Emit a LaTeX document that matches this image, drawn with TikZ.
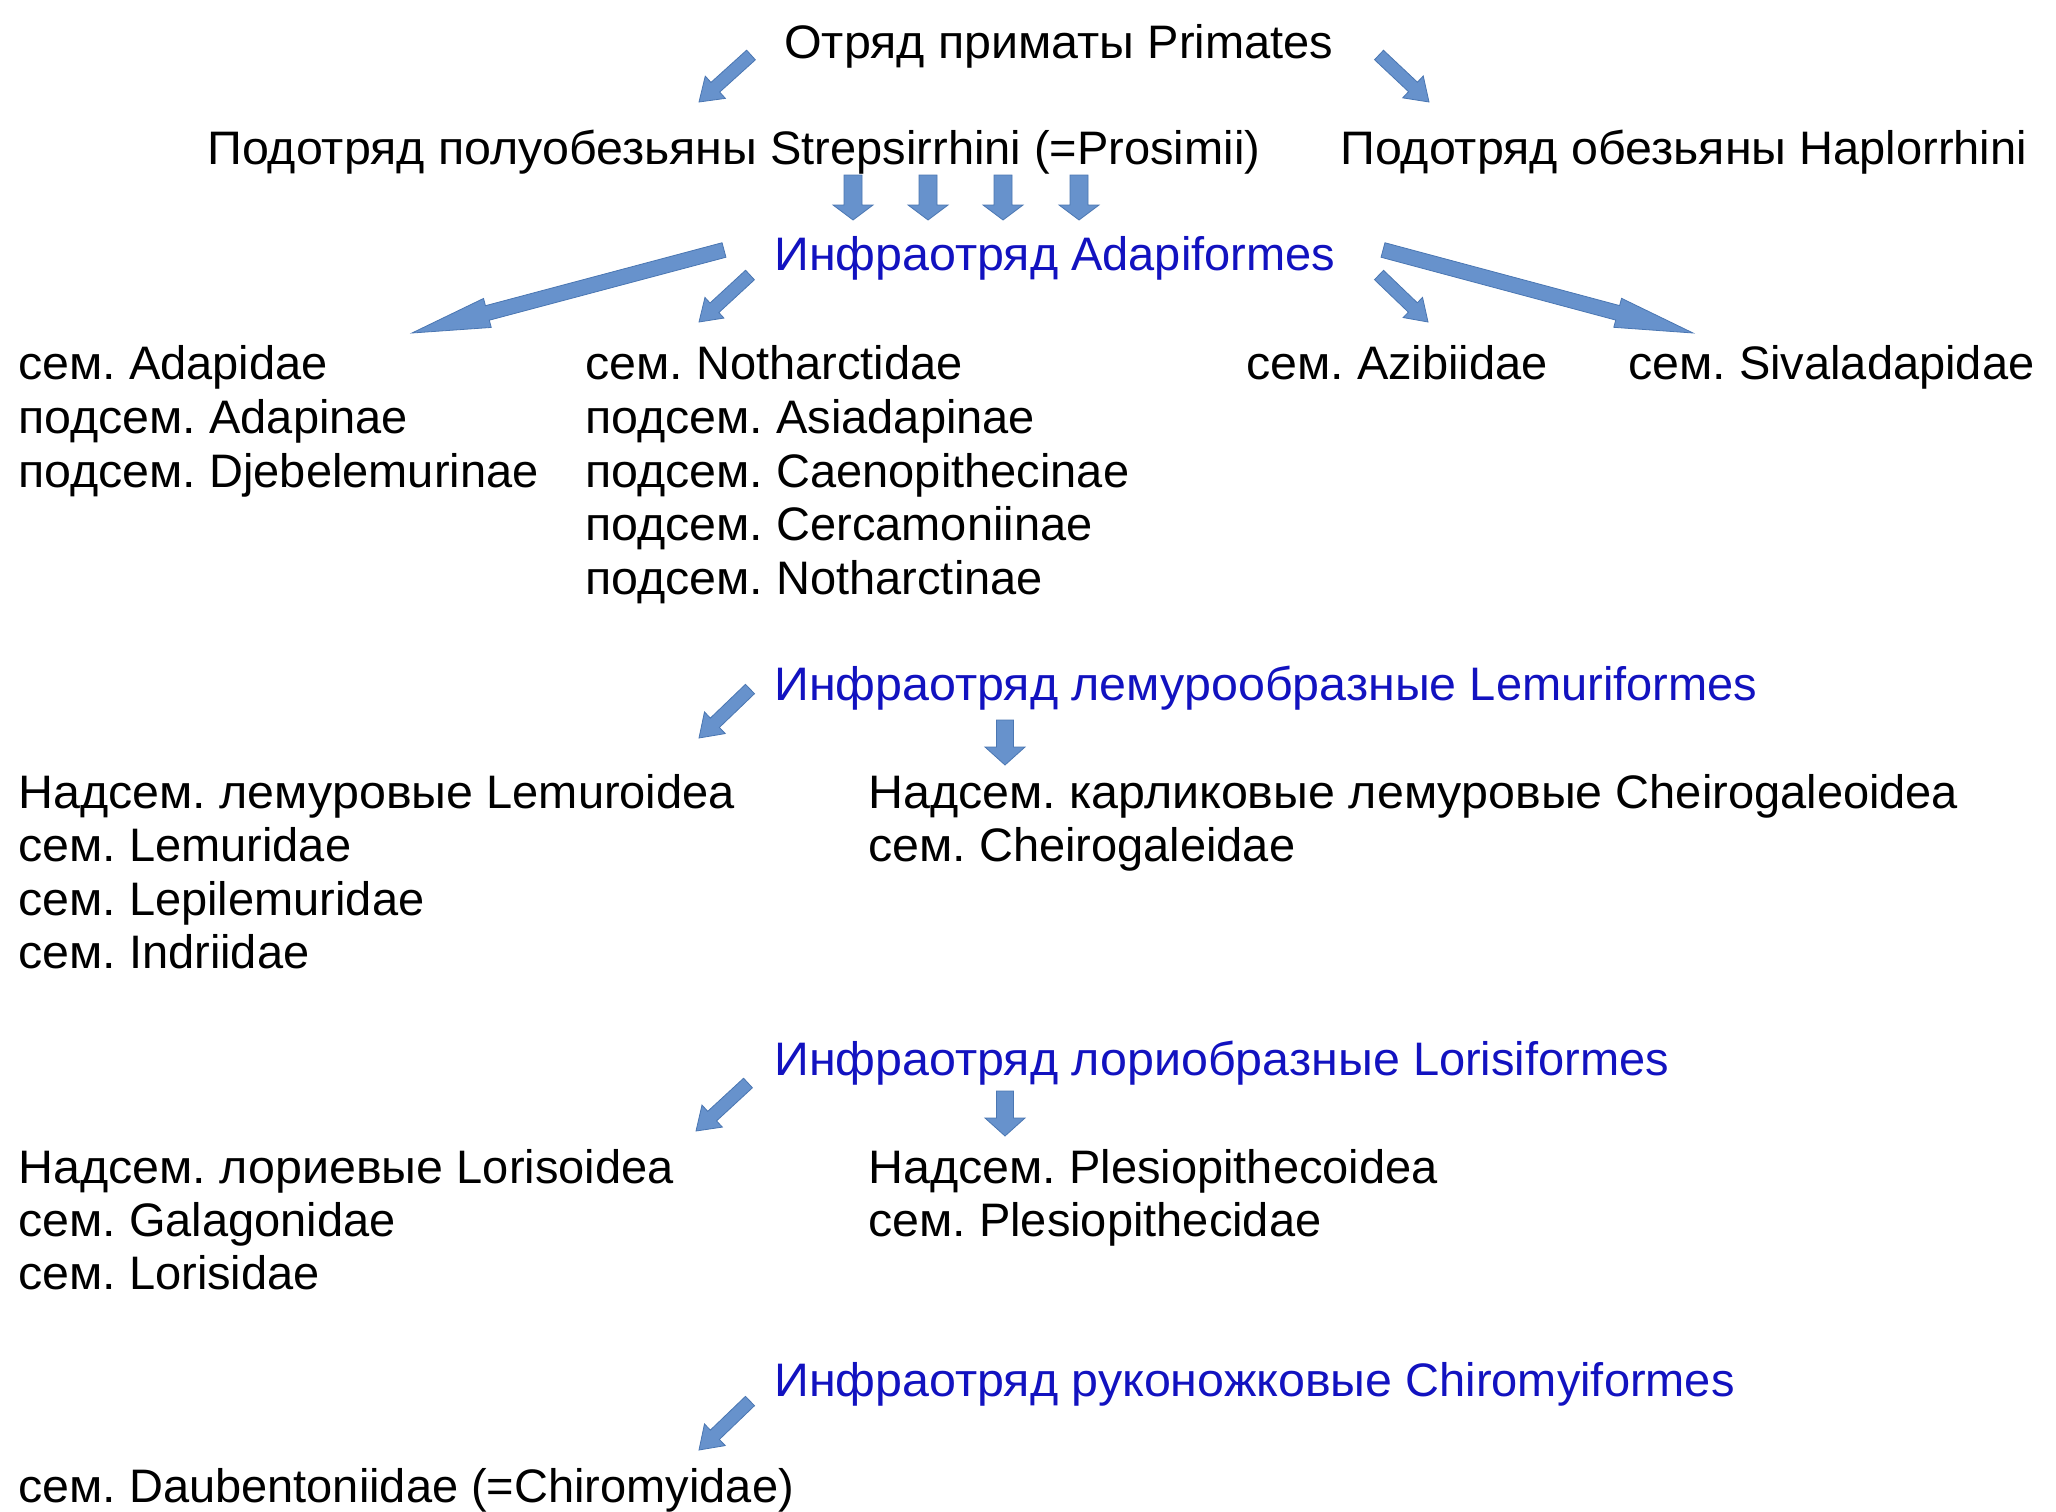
\documentclass[tikz,border=0pt]{standalone}
\usepackage{fontspec}
\setmainfont{Liberation Sans}
\newfontfamily\cyfont[FakeStretch=1.03]{Liberation Sans}
\newcommand\cy[1]{{\cyfont #1}}
\usetikzlibrary{calc}
\definecolor{arrfill}{HTML}{6792CC}
\definecolor{arrline}{HTML}{4A76B2}
\definecolor{infra}{HTML}{1212C0}
% block arrow: #1 tail coord, #2 tip coord, #3 body half width, #4 head half width, #5 head length (all in pt)
\newcommand\blockarr[5]{%
  \coordinate (#1-hb) at ($(#2)!#5pt!(#1)$);
  \draw[barrow] ($(#1)!#3pt!90:(#2)$) -- ($(#1-hb)!#3pt!-90:(#1)$) -- ($(#1-hb)!#4pt!-90:(#1)$)
     -- (#2) -- ($(#1-hb)!#4pt!90:(#1)$) -- ($(#1-hb)!#3pt!90:(#1)$) -- ($(#1)!#3pt!-90:(#2)$) -- cycle;
}
\frenchspacing
\begin{document}
\frenchspacing
\begin{tikzpicture}[x=1pt,y=-1pt,
  txt/.style={anchor=base west, inner sep=0pt, font=\fontsize{47}{56}\selectfont\frenchspacing},
  inf/.style={txt, text=infra},
  barrow/.style={fill=arrfill, draw=arrline, line width=0.8pt, line join=miter}]
\useasboundingbox[fill=white] (0,0) rectangle (2056,1512);

% ---- texts
\node[txt] (ord) at (784,59) {\cy{Отряд приматы} Primates};
\node[txt] (strep) at (207,164) {\cy{Подотряд полуобезьяны} Strepsirrhini (=Prosimii)};
\node[txt] (haplo) at (1340,164) {\cy{Подотряд обезьяны} Haplorrhini};
\node[inf] (adapi) at (774,270) {\cy{Инфраотряд} Adapiformes};

\node[txt] (a1) at (18,379) {\cy{сем.} Adapidae};
\node[txt] (a2) at (18,433) {\cy{подсем.} Adapinae};
\node[txt] (a3) at (18,487) {\cy{подсем.} Djebelemurinae};

\node[txt] (n1) at (585,379) {\cy{сем.} Notharctidae};
\node[txt] (n2) at (585,433) {\cy{подсем.} Asiadapinae};
\node[txt] (n3) at (585,487) {\cy{подсем.} Caenopithecinae};
\node[txt] (n4) at (585,540) {\cy{подсем.} Cercamoniinae};
\node[txt] (n5) at (585,594) {\cy{подсем.} Notharctinae};

\node[txt] (azi) at (1246,379) {\cy{сем.} Azibiidae};
\node[txt] (siv) at (1628,379) {\cy{сем.} Sivaladapidae};

\node[inf] (lemi) at (774,700) {\cy{Инфраотряд лемурообразные} Lemuriformes};
\node[txt] (l1) at (18,808) {\cy{Надсем. лемуровые} Lemuroidea};
\node[txt] (l2) at (18,861) {\cy{сем.} Lemuridae};
\node[txt] (l3) at (18,915) {\cy{сем.} Lepilemuridae};
\node[txt] (l4) at (18,968) {\cy{сем.} Indriidae};
\node[txt] (c1) at (868,808) {\cy{Надсем. карликовые лемуровые} Cheirogaleoidea};
\node[txt] (c2) at (868,861) {\cy{сем.} Cheirogaleidae};

\node[inf] (lori) at (774,1075) {\cy{Инфраотряд лориобразные} Lorisiformes};
\node[txt] (r1) at (18,1183) {\cy{Надсем. лориевые} Lorisoidea};
\node[txt] (r2) at (18,1236) {\cy{сем.} Galagonidae};
\node[txt] (r3) at (18,1289) {\cy{сем.} Lorisidae};
\node[txt] (p1) at (868,1183) {\cy{Надсем.} Plesiopithecoidea};
\node[txt] (p2) at (868,1236) {\cy{сем.} Plesiopithecidae};

\node[inf] (chiro) at (774,1396) {\cy{Инфраотряд руконожковые} Chiromyiformes};
\node[txt] (d1) at (18,1502) {\cy{сем.} Daubentoniidae (=Chiromyidae)};

% ---- arrow end points
\coordinate (t1) at (751,55);   \coordinate (h1) at (699,102);
\coordinate (t2) at (1379,55);  \coordinate (h2) at (1429,102);
\coordinate (td1) at (853,175); \coordinate (hd1) at (853,220);
\coordinate (td2) at (928,175); \coordinate (hd2) at (928,220);
\coordinate (td3) at (1003,175);\coordinate (hd3) at (1003,220);
\coordinate (td4) at (1079,175);\coordinate (hd4) at (1079,220);
\coordinate (t3) at (724,250);  \coordinate (h3) at (412,333);
\coordinate (t4) at (750,275);  \coordinate (h4) at (699,322);
\coordinate (t5) at (1379,275); \coordinate (h5) at (1428,322);
\coordinate (t6) at (1383,250); \coordinate (h6) at (1693,333);
\coordinate (t7) at (750,689);  \coordinate (h7) at (699,738);
\coordinate (t8) at (1005,720); \coordinate (h8) at (1005,765);
\coordinate (t9) at (748,1083); \coordinate (h9) at (696,1131);
\coordinate (t10) at (1005,1091); \coordinate (h10) at (1005,1136);
\coordinate (t11) at (750,1401); \coordinate (h11) at (699,1450);

% ---- arrows
\blockarr{t1}{h1}{6.5}{15}{22}
\blockarr{t2}{h2}{6.5}{15}{22}
\blockarr{td1}{hd1}{9}{20}{15}
\blockarr{td2}{hd2}{9}{20}{15}
\blockarr{td3}{hd3}{9}{20}{15}
\blockarr{td4}{hd4}{9}{20}{15}
\blockarr{t3}{h3}{7.5}{15}{78}
\blockarr{t4}{h4}{6.5}{14}{21}
\blockarr{t5}{h5}{6.5}{14}{21}
\blockarr{t6}{h6}{7.5}{15}{78}
\blockarr{t7}{h7}{6.5}{15}{22}
\blockarr{t8}{h8}{8.5}{20}{18}
\blockarr{t9}{h9}{6.5}{15}{22}
\blockarr{t10}{h10}{8.5}{20}{18}
\blockarr{t11}{h11}{6.5}{15}{22}
\end{tikzpicture}
\end{document}
